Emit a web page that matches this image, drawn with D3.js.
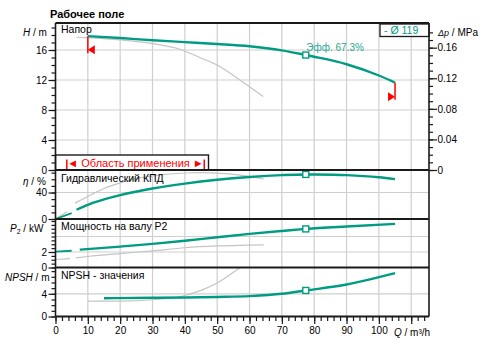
<!DOCTYPE html>
<html>
<head>
<meta charset="utf-8">
<script src="https://cdn.jsdelivr.net/npm/d3@7"></script>
<style>
  html, body { margin: 0; padding: 0; background: #fff; }
  svg { display: block; font-family: "Liberation Sans", Arial, sans-serif; }
</style>
</head>
<body>
<svg id="chart" width="484" height="347"></svg>
<script>
// ---- Pump curve data (Q in m³/h) ----
// Head, operating curve
const qHead = [10, 20, 30, 40, 50, 60, 70, 77.4, 80, 90, 100, 105];
const head  = [17.85, 17.6, 17.3, 17.05, 16.8, 16.5, 15.95, 15.33, 15.1, 14.1, 12.6, 11.65];
// Head, reference (grey) curve
const qHeadRef = [6.5, 10, 20, 30, 38.5, 44.6, 50, 57, 64.2];
const headRef  = [17.7, 17.65, 17.35, 16.85, 16.1, 15.0, 14.0, 12.0, 9.8];

// Hydraulic efficiency
const qEffLow = [0, 5];
const effLow  = [0, 9];
const qEff = [6.5, 10, 15, 20, 30, 40, 50, 60, 70, 77.4, 80, 90, 100, 105];
const eff  = [14, 21.5, 29.5, 36, 46, 53.5, 59.3, 63.5, 66.3, 67.3, 67.2, 66.2, 63, 60.2];
const qEffRefLow = [0, 3.5];
const effRefLow  = [0, 11];
const qEffRef = [6, 10, 15, 20, 26, 30, 40, 45, 50, 55, 60, 64.3];
const effRef  = [24, 34, 46, 54.5, 62, 65, 69.5, 70, 69.3, 67.5, 64.5, 60.5];

// Shaft power P2
const qPowLow = [0, 5];
const powLow  = [2.06, 2.16];
const qPow = [7.5, 20, 30, 40, 50, 60, 70, 77.4, 90, 105];
const pow  = [2.3, 2.7, 3.05, 3.45, 3.9, 4.34, 4.72, 4.98, 5.3, 5.63];
const qPowRefLow = [0, 4.5];
const powRefLow  = [1.03, 1.15];
const qPowRef = [6.3, 10, 20, 30, 40, 50, 60, 64.4];
const powRef  = [1.25, 1.42, 1.8, 2.15, 2.55, 2.78, 2.9, 2.93];

// NPSH
const qNpsh = [15, 30, 40, 50, 60, 70, 77.4, 90, 100, 105];
const npsh  = [3.23, 3.3, 3.35, 3.45, 3.6, 4.0, 4.59, 5.64, 6.93, 7.64];
const qNpshRef = [10, 20, 30, 40, 45, 50, 56, 58];
const npshRef  = [2.7, 2.72, 2.95, 3.7, 4.6, 5.9, 8.2, 9.0];

// Duty point and limits
const dutyQ = 77.4;
const dutyEff = 67.3;
const qMin = 10, qMax = 105;
const impeller = "119";
const rangeStart = 3.5, rangeEnd = 46;

// Axis ticks
const xMajor = [0, 10, 20, 30, 40, 50, 60, 70, 80, 90, 100, 110];
const hMajor = [0, 4, 8, 12, 16];
const effMajor = [0, 40];
const powMajor = [0, 2];
const npshMajor = [0, 4];
const dpMajor = [0, 0.04, 0.08, 0.12, 0.16];

const TEAL = "#009c82", TEAL_LABEL = "#2aa890", GREY = "#c4c4c4", GRID = "#cfcfcf", RED = "#ff0000", INK = "#1a1a1a";

const svg = d3.select("#chart");
const plotL = 55.5, plotR = 429, plotT = 23, plotB = 316.5;
const x = d3.scaleLinear().domain([0, 115.5]).range([plotL, plotR]);

// Panels: pixel bands and value scales
const panels = {
  head: { y: d3.scaleLinear().domain([0, 19.6]).range([170, plotT]), t: plotT, b: 170 },
  eff:  { y: d3.scaleLinear().domain([0, 74]).range([219, 170]), t: 170, b: 219 },
  pow:  { y: d3.scaleLinear().domain([0, 6.26]).range([267.5, 219]), t: 219, b: 267.5 },
  npsh: { y: d3.scaleLinear().domain([0, 8.64]).range([plotB, 267.5]), t: 267.5, b: plotB }
};

// Title
svg.append("text").attr("x", 50).attr("y", 18)
  .attr("font-size", 11).attr("font-weight", "bold").attr("fill", "#000")
  .text("Рабочее поле");

// Grid
const grid = svg.append("g").attr("stroke", GRID).attr("stroke-width", 1.2);
xMajor.filter(d => d > 0).forEach(d => {
  grid.append("line").attr("x1", x(d)).attr("x2", x(d)).attr("y1", plotT).attr("y2", plotB);
});
const hGrid = [[panels.head, [4, 8, 12, 16]], [panels.eff, [40]], [panels.pow, [2, 4]], [panels.npsh, [4]]];
hGrid.forEach(([p, vals]) => vals.forEach(v => {
  grid.append("line").attr("x1", plotL).attr("x2", plotR).attr("y1", p.y(v)).attr("y2", p.y(v));
}));

// Clip paths per panel
const defs = svg.append("defs");
Object.entries(panels).forEach(([k, p]) => {
  defs.append("clipPath").attr("id", "clip-" + k)
    .append("rect").attr("x", plotL).attr("y", p.t).attr("width", plotR - plotL).attr("height", p.b - p.t);
});

function curve(panelKey, qs, vs, color, width) {
  const p = panels[panelKey];
  const line = d3.line().x((d, i) => x(qs[i])).y(d => p.y(d)).curve(d3.curveMonotoneX);
  svg.append("path").datum(vs).attr("d", line)
    .attr("fill", "none").attr("stroke", color).attr("stroke-width", width)
    .attr("stroke-linecap", "butt")
    .attr("clip-path", `url(#clip-${panelKey})`);
}

// Reference (grey) curves
curve("head", qHeadRef, headRef, GREY, 1.2);
curve("eff", qEffRefLow, effRefLow, GREY, 1.2);
curve("eff", qEffRef, effRef, GREY, 1.2);
curve("pow", qPowRefLow, powRefLow, GREY, 1.2);
curve("pow", qPowRef, powRef, GREY, 1.2);
curve("npsh", qNpshRef, npshRef, GREY, 1.2);

// Operating curves (low-flow stubs drawn thinner)
curve("head", qHead, head, TEAL, 2.4);
curve("eff", qEffLow, effLow, TEAL, 1.8);
curve("eff", qEff, eff, TEAL, 2.4);
curve("pow", qPowLow, powLow, TEAL, 1.8);
curve("pow", qPow, pow, TEAL, 2.4);
curve("npsh", qNpsh, npsh, TEAL, 2.4);

// Duty point markers
function interp(qs, vs, q) {
  return d3.scaleLinear().domain(qs).range(vs)(q);
}
[["head", qHead, head], ["eff", qEff, eff], ["pow", qPow, pow], ["npsh", qNpsh, npsh]].forEach(([k, qs, vs]) => {
  const p = panels[k];
  svg.append("rect")
    .attr("x", x(dutyQ) - 3).attr("y", p.y(interp(qs, vs, dutyQ)) - 3)
    .attr("width", 6).attr("height", 6)
    .attr("fill", "#fff").attr("stroke", TEAL).attr("stroke-width", 1.4);
});

// Efficiency label at duty point
svg.append("text").attr("x", x(dutyQ) + 0.5).attr("y", panels.head.y(interp(qHead, head, dutyQ)) - 4)
  .attr("font-size", 10).attr("fill", TEAL_LABEL)
  .text(`Эфф.  ${dutyEff}%`);

// Min / max flow limit markers
const hMinY = panels.head.y(head[0]);
svg.append("line").attr("x1", x(qMin)).attr("x2", x(qMin)).attr("y1", hMinY).attr("y2", hMinY + 17)
  .attr("stroke", RED).attr("stroke-width", 1.5);
svg.append("path")
  .attr("d", `M${x(qMin)},${hMinY + 13.5} l7,-4.5 v9 z`).attr("fill", RED);
const hMaxY = panels.head.y(head[head.length - 1]);
svg.append("line").attr("x1", x(qMax)).attr("x2", x(qMax)).attr("y1", hMaxY).attr("y2", hMaxY + 17)
  .attr("stroke", RED).attr("stroke-width", 1.5);
svg.append("path")
  .attr("d", `M${x(qMax)},${hMaxY + 14} l-7,-4.5 v9 z`).attr("fill", RED);

// Panel captions
const capStyle = sel => sel.attr("font-size", 10.5).attr("fill", "#000");
svg.append("text").attr("x", 61).attr("y", 33).call(capStyle).text("Напор");
svg.append("text").attr("x", 61).attr("y", 182).call(capStyle).text("Гидравлический КПД");
svg.append("text").attr("x", 61).attr("y", 230).call(capStyle).text("Мощность на валу P2");
svg.append("text").attr("x", 61).attr("y", 279).call(capStyle).text("NPSH - значения");

// Application range box
const boxG = svg.append("g");
boxG.append("rect").attr("x", plotL).attr("y", 155).attr("width", 208.5 - plotL).attr("height", 15)
  .attr("fill", "#fff").attr("stroke", INK).attr("stroke-width", 1.4);
[rangeStart, rangeEnd].forEach(q => {
  boxG.append("line").attr("x1", x(q)).attr("x2", x(q)).attr("y1", 159.5).attr("y2", 169)
    .attr("stroke", RED).attr("stroke-width", 1.5);
});
boxG.append("text").attr("x", (x(rangeStart) + x(rangeEnd)) / 2).attr("y", 166.5)
  .attr("text-anchor", "middle").attr("font-size", 11).attr("fill", RED)
  .text("◄ Область применения ►");

// Impeller legend box
svg.append("rect").attr("x", 380).attr("y", 24).attr("width", 49).attr("height", 12.5)
  .attr("fill", "#fff").attr("stroke", INK).attr("stroke-width", 1.3);
svg.append("text").attr("x", 384).attr("y", 34).attr("font-size", 10.5).attr("fill", TEAL)
  .text(`- Ø ${impeller}`);

function styleAxis(g) {
  g.select(".domain").remove();
  g.selectAll("line").attr("stroke", INK).attr("stroke-width", 1.2);
  g.selectAll("text").attr("font-size", 10).attr("fill", "#000")
    .attr("font-family", "Liberation Sans, Arial, sans-serif");
}

// Left axes with major and minor ticks
function leftAxis(p, major, minorStep, maxV) {
  const minor = d3.range(0, maxV + 1e-9, minorStep);
  styleAxis(svg.append("g").attr("transform", `translate(${plotL},0)`)
    .call(d3.axisLeft(p.y).tickValues(minor).tickSize(4).tickFormat("")));
  styleAxis(svg.append("g").attr("transform", `translate(${plotL},0)`)
    .call(d3.axisLeft(p.y).tickValues(major).tickSize(7).tickPadding(1.5).tickFormat(d3.format("d"))));
}
leftAxis(panels.head, hMajor, 1, 19);
leftAxis(panels.eff, effMajor, 10, 70);
leftAxis(panels.pow, powMajor, 0.5, 6);
leftAxis(panels.npsh, npshMajor, 1, 8);

// Right Δp axis (1 m water column ≈ 0.00981 MPa)
const dp = d3.scaleLinear().domain([0, 19.6 * 0.00981]).range([170, plotT]);
styleAxis(svg.append("g").attr("transform", `translate(${plotR},0)`)
  .call(d3.axisRight(dp).tickValues(d3.range(0, 0.19, 0.01)).tickSize(4).tickFormat("")));
styleAxis(svg.append("g").attr("transform", `translate(${plotR},0)`)
  .call(d3.axisRight(dp).tickValues(dpMajor).tickSize(8).tickPadding(0.5)
    .tickFormat(d => d === 0 ? "0" : d3.format(".2f")(d))));

// Bottom Q axis
styleAxis(svg.append("g").attr("transform", `translate(0,${plotB})`)
  .call(d3.axisBottom(x).tickValues(d3.range(0, 115, 2)).tickSize(4.5).tickFormat("")));
styleAxis(svg.append("g").attr("transform", `translate(0,${plotB})`)
  .call(d3.axisBottom(x).tickValues(xMajor).tickSize(7.5).tickPadding(3)
    .tickFormat(d => d === 110 ? "" : d)));

// Frame and panel dividers
const frame = svg.append("g").attr("stroke", INK).attr("fill", "none");
frame.append("line").attr("x1", plotL).attr("x2", plotL).attr("y1", plotT).attr("y2", plotB).attr("stroke-width", 1.6);
frame.append("line").attr("x1", plotR).attr("x2", plotR).attr("y1", plotT).attr("y2", plotB).attr("stroke-width", 1.6);
[plotT, 170, 219, 267.5, plotB].forEach(yv => {
  frame.append("line").attr("x1", plotL).attr("x2", plotR).attr("y1", yv).attr("y2", yv).attr("stroke-width", 1.8);
});

// Axis titles
function italicTitle(xp, yp, sym) {
  const t = svg.append("text").attr("x", xp).attr("y", yp).attr("font-size", 10).attr("fill", "#000");
  t.append("tspan").attr("font-style", "italic").text(sym);
  return t;
}
italicTitle(23, 36, "H").append("tspan").text(" / m");
italicTitle(23, 185, "η").append("tspan").text(" / %");
{
  const t = italicTitle(10, 232, "P");
  t.append("tspan").attr("font-size", 7).attr("dy", 2).text("2");
  t.append("tspan").attr("dy", -2).text(" / kW");
}
italicTitle(5, 281, "NPSH").append("tspan").text("  / m");
{
  const t = svg.append("text").attr("x", 438).attr("y", 36).attr("font-size", 10).attr("fill", "#000");
  t.append("tspan").attr("font-style", "italic").attr("font-size", 9).text("Δp");
  t.append("tspan").text(" / MPa");
}
{
  const t = svg.append("text").attr("x", 394).attr("y", 335.5).attr("font-size", 10).attr("fill", "#000");
  t.append("tspan").attr("font-style", "italic").text("Q");
  t.append("tspan").text(" / m³/h");
}
</script>
</body>
</html>
